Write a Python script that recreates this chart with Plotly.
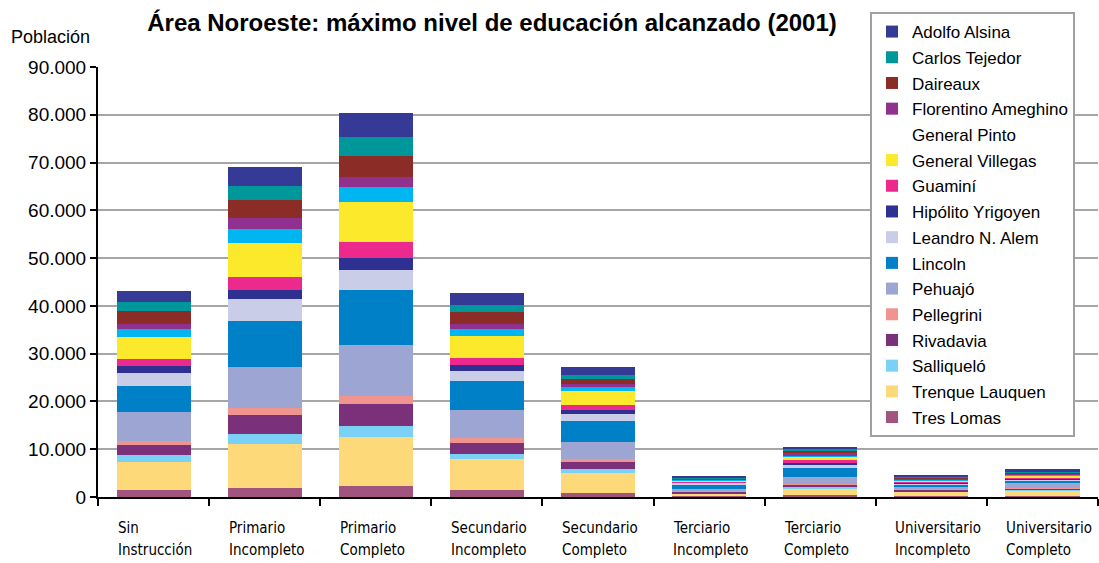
import plotly.graph_objects as go

categories = ["Sin Instrucción", "Primario Incompleto", "Primario Completo",
              "Secundario Incompleto", "Secundario Completo", "Terciario Incompleto",
              "Terciario Completo", "Universitario Incompleto", "Universitario Completo"]
tick_labels = ["Sin<br>Instrucción", "Primario<br>Incompleto", "Primario<br>Completo",
               "Secundario<br>Incompleto", "Secundario<br>Completo", "Terciario<br>Incompleto",
               "Terciario<br>Completo", "Universitario<br>Incompleto", "Universitario<br>Completo"]

# series listed bottom of stack first
tres_lomas       = [1390, 1950, 2200, 1390, 840, 200, 350, 300, 200]
trenque_lauquen  = [6000, 9200, 10440, 6500, 4160, 500, 1500, 750, 1100]
salliquelo       = [1460, 2100, 2220, 1200, 850, 120, 270, 150, 200]
rivadavia        = [1950, 3830, 4540, 2300, 1450, 250, 400, 300, 250]
pellegrini       = [1000, 1530, 1700, 900, 600, 120, 270, 200, 200]
pehuajo          = [5900, 8650, 10700, 6000, 3700, 550, 1450, 500, 900]
lincoln          = [5600, 9600, 11600, 5900, 4300, 950, 1900, 350, 500]
leandro_alem     = [2700, 4500, 4150, 2100, 1500, 250, 700, 300, 350]
hipolito_yrigoyen= [1500, 2000, 2450, 1400, 900, 120, 270, 150, 150]
guamini          = [1400, 2650, 3300, 1500, 900, 150, 550, 250, 200]
general_villegas = [4500, 7150, 8350, 4500, 3000, 200, 900, 300, 500]
general_pinto    = [1800, 2950, 3250, 1500, 850, 150, 200, 150, 150]
florentino_ameghino = [1100, 2250, 2100, 1000, 550, 120, 350, 120, 120]
daireaux         = [2700, 3800, 4350, 2550, 1200, 200, 550, 250, 250]
carlos_tejedor   = [1750, 3000, 4000, 1450, 800, 150, 350, 200, 350]
adolfo_alsina    = [2430, 3900, 4950, 2450, 1600, 200, 550, 250, 350]

series = [
    ("Tres Lomas", tres_lomas, "#A1557E"),
    ("Trenque Lauquen", trenque_lauquen, "#FDD97A"),
    ("Salliqueló", salliquelo, "#7AD0F5"),
    ("Rivadavia", rivadavia, "#7B3179"),
    ("Pellegrini", pellegrini, "#F0948F"),
    ("Pehuajó", pehuajo, "#9DA5D3"),
    ("Lincoln", lincoln, "#0080C6"),
    ("Leandro N. Alem", leandro_alem, "#C9CDE8"),
    ("Hipólito Yrigoyen", hipolito_yrigoyen, "#2E3192"),
    ("Guaminí", guamini, "#EC2A8E"),
    ("General Villegas", general_villegas, "#FDE92B"),
    ("General Pinto", general_pinto, "#00B6F0"),
    ("Florentino Ameghino", florentino_ameghino, "#90308F"),
    ("Daireaux", daireaux, "#8B2C27"),
    ("Carlos Tejedor", carlos_tejedor, "#00979A"),
    ("Adolfo Alsina", adolfo_alsina, "#353A96"),
]

fig = go.Figure()
n = len(series)
for i, (name, vals, color) in enumerate(series):
    rank = (n - i) * 10
    if name == "General Pinto":
        fig.add_trace(go.Bar(x=categories, y=vals, name=name, marker_color=color,
                             marker_line_width=0, showlegend=False, legendgroup=name,
                             legendrank=rank))
        # legend entry shown without a colour swatch, as in the original
        fig.add_trace(go.Bar(x=categories, y=[0] * len(categories), name=name,
                             marker_color="rgba(0,0,0,0)", marker_line_width=0,
                             legendgroup=name, legendrank=rank, hoverinfo="skip"))
    else:
        fig.add_trace(go.Bar(x=categories, y=vals, name=name, marker_color=color,
                             marker_line_width=0, legendgroup=name, legendrank=rank))

font_main = "Liberation Sans, Arial, sans-serif"
font_narrow = "DejaVu Sans Condensed, Liberation Sans Narrow, Arial Narrow, sans-serif"

for cat, lab in zip(categories, tick_labels):
    line1, line2 = lab.split("<br>")
    fig.add_annotation(x=cat, y=0, xref="x", yref="y", text=line1, showarrow=False,
                       xanchor="left", yanchor="middle", xshift=-38, yshift=-31,
                       font=dict(family=font_narrow, size=15, color="black"))
    fig.add_annotation(x=cat, y=0, xref="x", yref="y", text=line2, showarrow=False,
                       xanchor="left", yanchor="middle", xshift=-38, yshift=-53,
                       font=dict(family=font_narrow, size=15, color="black"))

fig.add_annotation(text="Población", xref="paper", yref="paper", x=-0.089, y=1.07,
                   xanchor="left", yanchor="middle", showarrow=False,
                   font=dict(family=font_main, size=18, color="black"))

fig.update_layout(
    width=1099, height=563,
    margin=dict(l=98, r=1, t=67, b=66, autoexpand=False),
    paper_bgcolor="white", plot_bgcolor="white",
    barmode="stack", bargap=0.333,
    separators=",.",
    title=dict(text="<b>Área Noroeste: máximo nivel de educación alcanzado (2001)</b>",
               x=0.4477, xanchor="center", y=0.960, yanchor="middle",
               font=dict(family=font_main, size=24, color="black")),
    legend=dict(x=0.772, y=0.1395, xanchor="left", yanchor="bottom",
                traceorder="grouped", tracegroupgap=0.6,
                bgcolor="white", bordercolor="#A0A0A0", borderwidth=2,
                font=dict(family=font_main, size=17, color="black")),
    showlegend=True,
)
fig.update_xaxes(showticklabels=False, showline=True, linecolor="black", linewidth=2,
                 ticks="outside", tickson="boundaries", ticklen=7, tickwidth=2,
                 tickcolor="black", showgrid=False)
fig.update_yaxes(range=[0, 90000], dtick=10000, tickformat=",", showline=True,
                 linecolor="black", linewidth=2, ticks="outside", ticklen=6, tickwidth=2,
                 tickcolor="black", gridcolor="#A6A6A6", gridwidth=2, zeroline=False,
                 tickfont=dict(family=font_main, size=19, color="black"))

fig.write_html("out.html", config={"displayModeBar": False},
               post_script="document.body.style.margin='0';")
